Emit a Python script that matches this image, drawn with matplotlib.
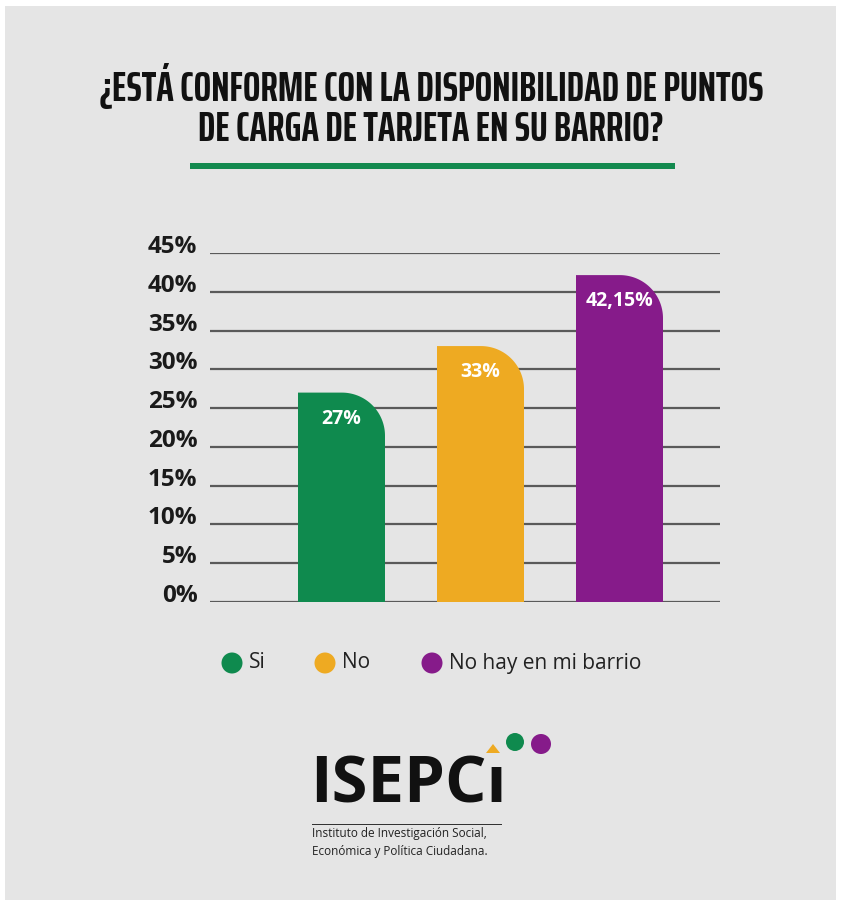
import matplotlib
matplotlib.use("Agg")
import matplotlib.pyplot as plt
from matplotlib.patches import Rectangle, PathPatch, Circle, Polygon
from matplotlib.path import Path
from matplotlib.transforms import Affine2D
from matplotlib.textpath import TextPath
from matplotlib import font_manager as fm
import numpy as np

categories = ["Si", "No", "No hay en mi barrio"]
values = [27, 33, 42.15]
value_labels = ["27%", "33%", "42,15%"]
colors = ["#0f8a4e", "#eeaa22", "#861b8a"]
yticks = [0, 5, 10, 15, 20, 25, 30, 35, 40, 45]
ytick_labels = [f"{t}%" for t in yticks]
title_lines = ["¿ESTÁ CONFORME CON LA DISPONIBILIDAD DE PUNTOS",
               "DE CARGA DE TARJETA EN SU BARRIO?"]

W, H = 844, 900
fig = plt.figure(figsize=(W / 100, H / 100), dpi=100)
fig.patch.set_facecolor("white")
# pixel transform, origin top-left
PX = Affine2D().scale(1, -1).translate(0, H)


def fx(px):
    return px / W


def fy(py):
    return 1 - py / H


# gray panel
fig.patches.append(Rectangle((fx(5), 0), fx(836) - fx(5), fy(6), transform=fig.transFigure,
                             facecolor="#e5e5e5", edgecolor="none", zorder=-10))


def wnum(w):
    try:
        return int(w)
    except Exception:
        return {"bold": 700, "heavy": 800, "extra bold": 800, "black": 900}.get(str(w).lower(), 400)


# ---- Title font: condensed bold (non-mono) face closest to the reference proportions
target_ratio = 662 / 30
cands = []
for f in fm.fontManager.ttflist:
    nm = (f.name + " " + f.fname).lower()
    if any(k in nm for k in ("mono", "light", "thin", "semibold", "medium", "black",
                             "heavy", "extrabold", "extra bold", "italic", "oblique")):
        continue
    condensed = ("condensed" in nm or "narrow" in nm or
                 f.stretch in ("condensed", "semi-condensed", "extra-condensed", "ultra-condensed"))
    if condensed and 700 <= wnum(f.weight) < 800:
        cands.append(f.fname)
best, best_d = None, None
for fn in cands:
    try:
        p = fm.FontProperties(fname=fn)
        tp_w = TextPath((0, 0), title_lines[0], size=100, prop=p).get_extents().width
        tp_h = TextPath((0, 0), "H", size=100, prop=p).get_extents().height
        d = abs(tp_w / tp_h - target_ratio)
        if best_d is None or d < best_d:
            best, best_d = fn, d
    except Exception:
        pass
if best:
    tprop = fm.FontProperties(fname=best)
else:
    tprop = fm.FontProperties(family="DejaVu Sans", weight="bold")

capH = TextPath((0, 0), "H", size=100, prop=tprop).get_extents().height
lineW = TextPath((0, 0), title_lines[0], size=100, prop=tprop).get_extents().width
px_per_pt = 100 / 72
s_h = 100 * 30 / (capH * px_per_pt)
s_w = 100 * 662 / (lineW * px_per_pt)
size = min(s_h, s_w)

title_y = [86, 129]
for ty, line in zip(title_y, title_lines):
    fig.text(fx(431), fy(ty), line, ha="center", va="center",
             fontproperties=tprop, fontsize=size, color="#111111")

# green rule
fig.patches.append(Rectangle((fx(190), fy(169)), fx(675) - fx(190), fy(163) - fy(169),
                             transform=fig.transFigure, facecolor="#138a4f", edgecolor="none"))

# ---- Axes
left, right, top, bottom = 210, 720, 253, 602
ax = fig.add_axes([fx(left), fy(bottom), fx(right) - fx(left), fy(top) - fy(bottom)])
ax.set_facecolor("none")
for s in ax.spines.values():
    s.set_visible(False)
x = np.arange(len(categories))
bw = 87 / 139
ax.set_xlim((left - 341.5) / 139, (right - 341.5) / 139)
ax.set_ylim(0, 45)
ax.set_yticks(yticks)
ax.set_yticklabels(ytick_labels, fontsize=17.5, fontweight="bold", family="Open Sans", color="#1a1a1a")
for lbl in ax.get_yticklabels():
    lbl.set_verticalalignment("baseline")
ax.tick_params(axis="y", length=0, pad=9)
ax.set_xticks([])
for t in yticks:
    ax.axhline(t, color="#5a5a5a", lw=1.6, zorder=1)

bars = ax.bar(x, values, width=bw, color=colors, zorder=2)
rx = 0.31
ry = rx * 139 / (349 / 45)
for rect, col in zip(bars, colors):
    x0 = rect.get_x(); w = rect.get_width(); h = rect.get_height()
    rect.set_visible(False)
    th = np.linspace(0, np.pi / 2, 40)
    cx, cy = x0 + w - rx, h - ry
    arc = [(cx + rx * np.cos(a), cy + ry * np.sin(a)) for a in th]
    verts = [(x0, 0), (x0 + w, 0)] + arc + [(x0, h), (x0, 0)]
    ax.add_patch(PathPatch(Path(verts), facecolor=col, edgecolor="none", zorder=3))

for xi, v, lab in zip(x, values, value_labels):
    ax.text(xi, v - 26 * 45 / 349, lab, ha="center", va="center", color="white",
            fontsize=14, fontweight="bold", family="Open Sans", zorder=4)

# ---- Legend
leg_x = [232, 325, 432]
for lx, lab, col in zip(leg_x, categories, colors):
    fig.patches.append(Circle((lx, 663), 10.5, transform=PX, facecolor=col, edgecolor="none"))
    fig.text(fx(lx + 17), fy(663), lab, ha="left", va="center", fontsize=15,
             family="Open Sans", color="#222222")

# ---- Logo
fig.text(fx(310), fy(786), "ISEPCı", ha="left", va="center", fontsize=47, fontweight="bold",
         family="Open Sans", color="#111111")
fig.patches.append(Polygon([(486, 753), (500, 753), (493, 744)], closed=True, transform=PX,
                           facecolor="#eeaa22", edgecolor="none"))
fig.patches.append(Circle((515, 742), 9, transform=PX, facecolor="#0f8a4e", edgecolor="none"))
fig.patches.append(Circle((541, 744), 10, transform=PX, facecolor="#861b8a", edgecolor="none"))
fig.patches.append(Rectangle((312, 824), 190, 1.3, transform=PX, facecolor="#333333", edgecolor="none"))
fig.text(fx(312), fy(834), "Instituto de Investigación Social,", ha="left", va="center",
         fontsize=8.5, family="Open Sans", color="#222222")
fig.text(fx(312), fy(851), "Económica y Política Ciudadana.", ha="left", va="center",
         fontsize=8.5, family="Open Sans", color="#222222")

fig.savefig("out.png", dpi=100, facecolor=fig.get_facecolor())
